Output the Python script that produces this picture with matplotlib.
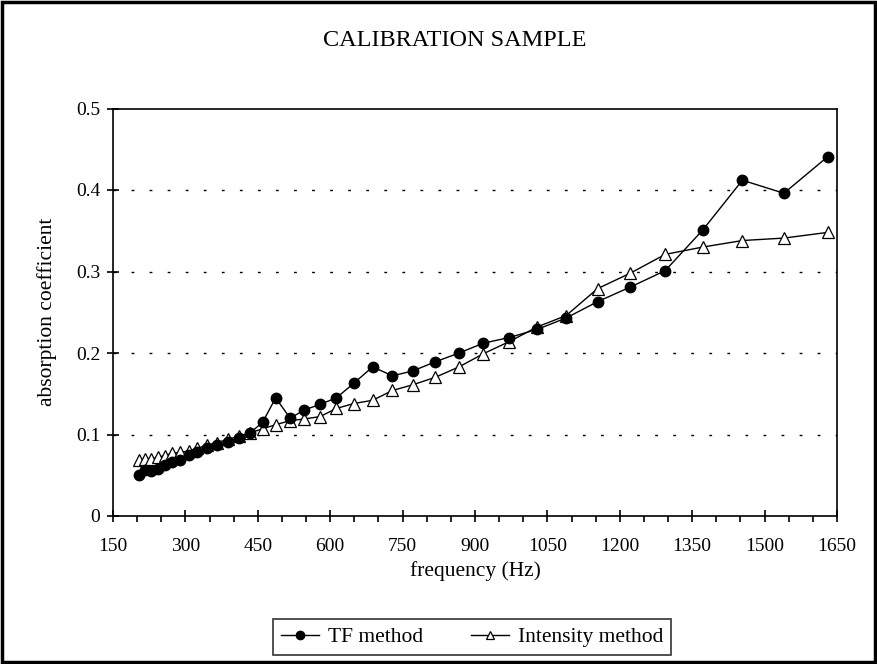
import matplotlib
matplotlib.use('Agg')
import matplotlib.pyplot as plt
from matplotlib.ticker import MultipleLocator
from matplotlib.patches import Rectangle

# frequencies (Hz)
freq = [204, 216, 229, 243, 257, 273, 289, 307, 325, 344, 365, 388, 411, 434,
        460, 487, 517, 546, 579, 613, 649, 688, 729, 771, 817, 867, 917, 971,
        1029, 1089, 1154, 1222, 1294, 1372, 1454, 1540, 1631]

tf_method = [0.050, 0.056, 0.055, 0.058, 0.062, 0.066, 0.069, 0.075, 0.079,
             0.083, 0.087, 0.091, 0.096, 0.102, 0.115, 0.145, 0.120, 0.130,
             0.137, 0.145, 0.163, 0.183, 0.172, 0.178, 0.189, 0.200, 0.212,
             0.219, 0.229, 0.243, 0.263, 0.281, 0.301, 0.351, 0.412, 0.396,
             0.441]

intensity_method = [0.069, 0.070, 0.070, 0.072, 0.074, 0.077, 0.078, 0.080,
                    0.083, 0.087, 0.090, 0.094, 0.098, 0.102, 0.107, 0.112,
                    0.117, 0.119, 0.122, 0.132, 0.138, 0.142, 0.154, 0.161,
                    0.170, 0.183, 0.199, 0.214, 0.232, 0.246, 0.279, 0.298,
                    0.321, 0.330, 0.338, 0.341, 0.348]

x_ticks = [150, 300, 450, 600, 750, 900, 1050, 1200, 1350, 1500, 1650]
y_ticks = [0, 0.1, 0.2, 0.3, 0.4, 0.5]

plt.rcParams['font.family'] = ['Liberation Serif', 'DejaVu Serif']

fig = plt.figure(figsize=(8.77, 6.64), dpi=100)
ax = fig.add_axes([113 / 877, 1 - 516 / 664, 724 / 877, 407.5 / 664])

ax.plot(freq, tf_method, color='black', lw=1.0, marker='o', ms=7.5,
        mfc='black', mec='black', label='TF method', zorder=3)
ax.plot(freq, intensity_method, color='black', lw=1.0, marker='^', ms=8,
        mfc='white', mec='black', mew=0.9, label='Intensity method', zorder=2)

ax.set_xlim(150, 1650)
ax.set_ylim(0, 0.5)
ax.set_xticks(x_ticks)
ax.set_xticklabels([str(v) for v in x_ticks])
ax.set_yticks(y_ticks)
ax.set_yticklabels(['0', '0.1', '0.2', '0.3', '0.4', '0.5'])
ax.xaxis.set_minor_locator(MultipleLocator(50))

# dotted horizontal gridlines
for yv in y_ticks[1:-1]:
    ax.axhline(yv, color='black', lw=1.0, dashes=(2, 11), zorder=1)

for side in ['left', 'bottom', 'top', 'right']:
    ax.spines[side].set_linewidth(1.2)
    ax.spines[side].set_color('black')

ax.tick_params(axis='both', which='major', direction='inout', length=8,
               width=1.2, labelsize=14, colors='black')
ax.tick_params(axis='y', which='major', pad=5)
ax.tick_params(axis='x', which='major', pad=12)
ax.tick_params(axis='x', which='minor', direction='out', length=4, width=1.2)

ax.set_xlabel('frequency (Hz)', fontsize=15.5, labelpad=4)
ax.set_ylabel('absorption coefficient', fontsize=15.5, labelpad=14)

fig.text(455 / 877, 1 - 40 / 664, 'CALIBRATION SAMPLE', fontsize=17.5,
         ha='center', va='center')

leg = fig.legend(loc='center', bbox_to_anchor=(472 / 877, 1 - 637 / 664),
                 ncol=2, frameon=True, fancybox=False, fontsize=15.5,
                 handlelength=1.8, columnspacing=2.2, borderpad=0.35,
                 handletextpad=0.4, markerscale=0.8)
leg.get_frame().set_edgecolor('black')
leg.get_frame().set_linewidth(1.2)

# outer border of the chart
fig.patches.append(Rectangle((0.002, 0.003), 0.996, 0.994, transform=fig.transFigure,
                             fill=False, edgecolor='black', lw=2.5))

fig.savefig('out.png', dpi=100)
